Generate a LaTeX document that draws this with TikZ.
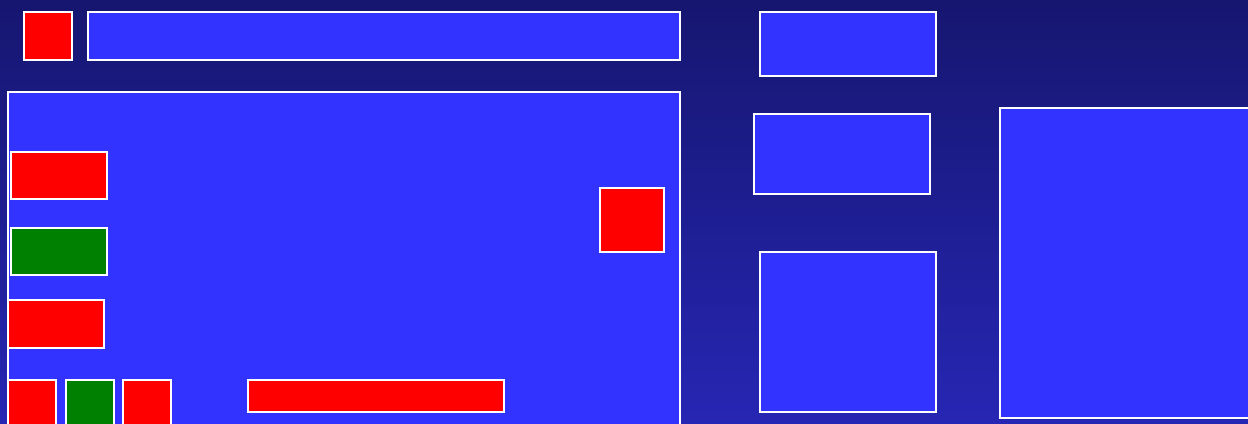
\documentclass[tikz,border=0pt]{standalone}
\definecolor{bgtop}{RGB}{22,22,112}
\definecolor{bgbot}{RGB}{38,38,180}
\definecolor{pblue}{RGB}{51,51,255}
\definecolor{pred}{RGB}{255,0,0}
\definecolor{pgreen}{RGB}{0,128,0}
\begin{document}
\begin{tikzpicture}[x=0.75pt,y=-0.75pt,
  box/.style={draw=white,line width=1.5pt},
  bluebox/.style={box,fill=pblue},
  redbox/.style={box,fill=pred},
  greenbox/.style={box,fill=pgreen}]
\useasboundingbox (0,0) rectangle (1248,424);
\shade[top color=bgtop,bottom color=bgbot] (0,0) rectangle (1248,424);
\begin{scope}
\clip (0,0) rectangle (1248,424);
% top row
\draw[redbox] (24,12) rectangle (72,60);
\draw[bluebox] (88,12) rectangle (680,60);
% main panel
\draw[bluebox] (8,92) rectangle (680,440);
\draw[redbox] (11,152) rectangle (107,199);
\draw[greenbox] (11,228) rectangle (107,275);
\draw[redbox] (8,300) rectangle (104,348);
\draw[redbox] (8,380) rectangle (56,440);
\draw[greenbox] (66,380) rectangle (114,440);
\draw[redbox] (123,380) rectangle (171,440);
\draw[redbox] (248,380) rectangle (504,412);
\draw[redbox] (600,188) rectangle (664,252);
% right column
\draw[bluebox] (760,12) rectangle (936,76);
\draw[bluebox] (754,114) rectangle (930,194);
\draw[bluebox] (760,252) rectangle (936,412);
\draw[bluebox] (1000,108) rectangle (1260,418);
\end{scope}
\end{tikzpicture}
\end{document}
